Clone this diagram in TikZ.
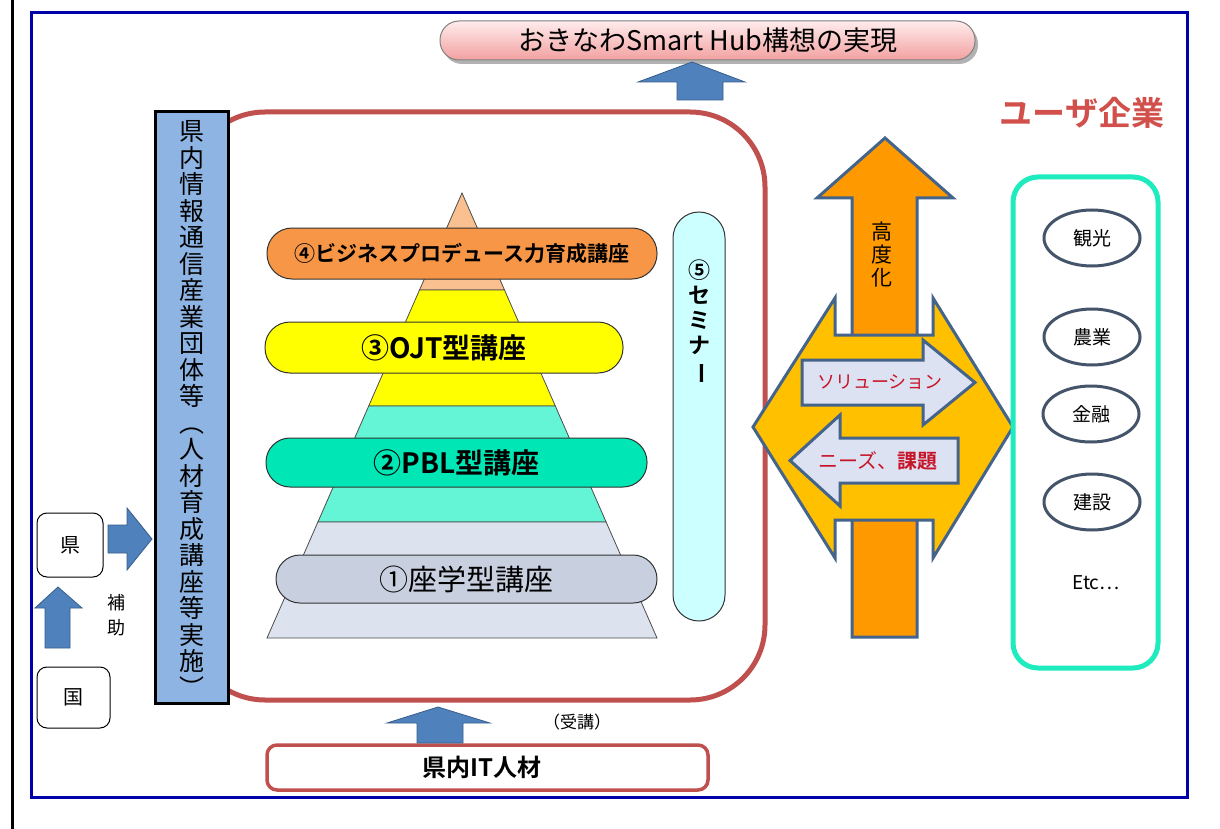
\documentclass[tikz,border=0pt]{standalone}
\usepackage{fontspec}
\usetikzlibrary{shapes.geometric}
\setmainfont{Noto Sans CJK JP}
\newfontfamily\jp[BoldFont={* Bold}]{Noto Sans CJK JP}
\definecolor{frameblue}{RGB}{0,0,170}
\definecolor{redline}{RGB}{192,80,77}
\definecolor{boxblue}{RGB}{141,180,226}
\definecolor{orangeTop}{RGB}{250,192,143}
\definecolor{pillfour}{RGB}{247,150,70}
\definecolor{yel}{RGB}{255,255,0}
\definecolor{tealband}{RGB}{100,245,215}
\definecolor{pilltwo}{RGB}{0,230,180}
\definecolor{grayband}{RGB}{220,226,238}
\definecolor{pillone}{RGB}{200,208,224}
\definecolor{cyanpill}{RGB}{204,255,255}
\definecolor{arrowblue}{RGB}{79,129,189}
\definecolor{arrowblueD}{RGB}{56,93,138}
\definecolor{orangeA}{RGB}{255,153,0}
\definecolor{yellowA}{RGB}{255,192,0}
\definecolor{slate}{RGB}{68,100,140}
\definecolor{lav}{RGB}{220,226,242}
\definecolor{tealbox}{RGB}{30,235,190}
\definecolor{ellD}{RGB}{68,84,106}
\definecolor{userred}{RGB}{210,80,75}
\definecolor{textred}{RGB}{200,20,40}
\definecolor{pinkT}{RGB}{255,236,236}
\definecolor{pinkB}{RGB}{242,160,160}
\tikzset{
  band/.style={draw=black!70, line width=0.8},
  pill/.style={draw=black!80, line width=1, minimum width=#1, inner sep=0},
  bluearrow/.style={fill=arrowblue, draw=arrowblueD, line width=0.8},
  bigarrow/.style={draw=slate, line width=3, line join=miter},
  lavarrow/.style={fill=lav, draw=slate, line width=3},
  sbox/.style={draw=black, line width=1, rounded corners=10, fill=white, inner sep=0},
  ell/.style={ellipse, draw=ellD, line width=3, minimum width=96, minimum height=56, inner sep=0, font=\jp\fontsize{19}{19}\selectfont},
}
\begin{document}
\begin{tikzpicture}[x=1pt,y=-1pt]
\useasboundingbox (0,0) rectangle (1220,829);
\fill[white] (0,0) rectangle (1220,829);
% left black line and frame
\draw[black, line width=3] (12,0) -- (12,829);
\draw[frameblue, line width=3] (31,13) rectangle (1187,797);
% red rounded rectangle
\draw[redline, line width=5, rounded corners=75] (190,112) rectangle (765,700);
% organisation box
\node[draw=black, line width=3, fill=boxblue, minimum width=73, minimum height=591, inner sep=0] (org) at (192,407.5) {};
\node[font=\jp\fontsize{25}{26.5}\selectfont, align=center, inner sep=0] (orgtext) at (192,409)
 {県\\内\\情\\報\\通\\信\\産\\業\\団\\体\\等\\︵\\人\\材\\育\\成\\講\\座\\等\\実\\施\\︶};
% pyramid
\draw[band, fill=orangeTop] (462,193) -- (504.5,290) -- (419.5,290) -- cycle;
\draw[band, fill=yel] (419.5,290) -- (504.5,290) -- (555.3,406) -- (368.7,406) -- cycle;
\draw[band, fill=tealband] (368.7,406) -- (555.3,406) -- (606.1,522) -- (317.9,522) -- cycle;
\draw[band, fill=grayband] (317.9,522) -- (606.1,522) -- (657,638) -- (267,638) -- cycle;
% pills
\node[pill=390, minimum height=51, rounded corners=25, fill=pillfour, font=\jp\bfseries\fontsize{21}{21}\selectfont] (p4) at (462,253.5) {④ビジネスプロデュース力育成講座};
\node[pill=358, minimum height=51, rounded corners=25, fill=yel, font=\jp\bfseries\fontsize{28}{28}\selectfont] (p3) at (444,347.5) {③OJT型講座};
\node[pill=381, minimum height=49, rounded corners=24, fill=pilltwo, font=\jp\bfseries\fontsize{28}{28}\selectfont] (p2) at (456.5,462.5) {②PBL型講座};
\node[pill=381, minimum height=48, rounded corners=24, fill=pillone, font=\jp\fontsize{29}{29}\selectfont] (p1) at (466.5,579) {①座学型講座};
% seminar pill
\node[pill=52, minimum height=409, rounded corners=26, fill=cyanpill] (p5) at (699,416.5) {};
\node[font=\jp\bfseries\fontsize{22}{25}\selectfont, align=center, inner sep=0] (p5t) at (699,322)
 {⑤\\セ\\ミ\\ナ\\\rotatebox[origin=c]{-90}{ー}};
% orange vertical arrow
\draw[bigarrow, fill=orangeA] (885,138) -- (953,198) -- (917,198) -- (917,637) -- (852,637) -- (852,198) -- (817,198) -- cycle;
% yellow double arrow
\draw[bigarrow, fill=yellowA] (753,427) -- (835,298) -- (835,335) -- (933,335) -- (933,298) -- (1013,427) -- (933,558) -- (933,520) -- (835,520) -- (835,558) -- cycle;
% lavender arrows
\draw[lavarrow] (802,360) -- (923,360) -- (923,340) -- (975,382.5) -- (923,425) -- (923,405) -- (802,405) -- cycle;
\draw[lavarrow] (958,438) -- (840,438) -- (840,415) -- (790,460.5) -- (840,506) -- (840,483) -- (958,483) -- cycle;
\node[font=\jp\fontsize{18}{18}\selectfont, text=textred, inner sep=0] (sol) at (880,382.5) {ソリューション};
\node[font=\jp\fontsize{20}{20}\selectfont, text=textred, inner sep=0] (needs) at (878,460.5) {ニーズ、\textbf{課題}};
\node[font=\jp\fontsize{21}{23}\selectfont, align=center, inner sep=0] (kodo) at (882,254) {高\\度\\化};
% user companies
\node[font=\jp\bfseries\fontsize{33}{33}\selectfont, text=userred, inner sep=0] (user) at (1082,113) {ユーザ企業};
\draw[tealbox, line width=5, rounded corners=25] (1013,177) rectangle (1158,668);
\node[ell] (e1) at (1092,238) {観光};
\node[ell] (e2) at (1092,337) {農業};
\node[ell] (e3) at (1091,414) {金融};
\node[ell] (e4) at (1092,502) {建設};
\node[font=\jp\fontsize{19}{19}\selectfont, inner sep=0] (etc) at (1096,583) {Etc…};
% left side
\node[sbox, minimum width=66, minimum height=64, font=\jp\fontsize{20}{20}\selectfont] (ken) at (70,545) {県};
\node[sbox, minimum width=73, minimum height=61, font=\jp\fontsize{20}{20}\selectfont] (kuni) at (73.5,697.5) {国};
\draw[bluearrow] (108,525) -- (127,525) -- (127,508) -- (152,539) -- (127,570) -- (127,553) -- (108,553) -- cycle;
\draw[bluearrow] (58,587) -- (82,608) -- (70,608) -- (70,648) -- (45,648) -- (45,608) -- (35,608) -- cycle;
\node[font=\jp\fontsize{18}{25}\selectfont, align=center, inner sep=0] (hojo) at (116,615) {補\\助};
% bottom
\draw[redline, line width=3.5, rounded corners=10] (267,745) rectangle (708,790);
\node[font=\jp\bfseries\fontsize{24}{24}\selectfont, inner sep=0] (it) at (482,767) {県内IT人材};
\draw[bluearrow] (438,707) -- (490,723) -- (463,723) -- (463,743) -- (417,743) -- (417,723) -- (387,723) -- cycle;
\node[font=\jp\fontsize{17}{17}\selectfont, inner sep=0] (jukou) at (577,722) {（受講）};
% title
\fill[black!30, rounded corners=19] (443,25) rectangle (978,64);
\shade[top color=pinkT, bottom color=pinkB, rounded corners=19, draw=black!50, line width=1] (440,21) rectangle (975,60);
\node[font=\jp\fontsize{27}{27}\selectfont, inner sep=0] (title) at (708,40) {おきなわSmart Hub構想の実現};
\draw[bluearrow] (692,62) -- (745,82) -- (723,82) -- (723,100) -- (677,100) -- (677,82) -- (638,82) -- cycle;
\end{tikzpicture}
\end{document}
